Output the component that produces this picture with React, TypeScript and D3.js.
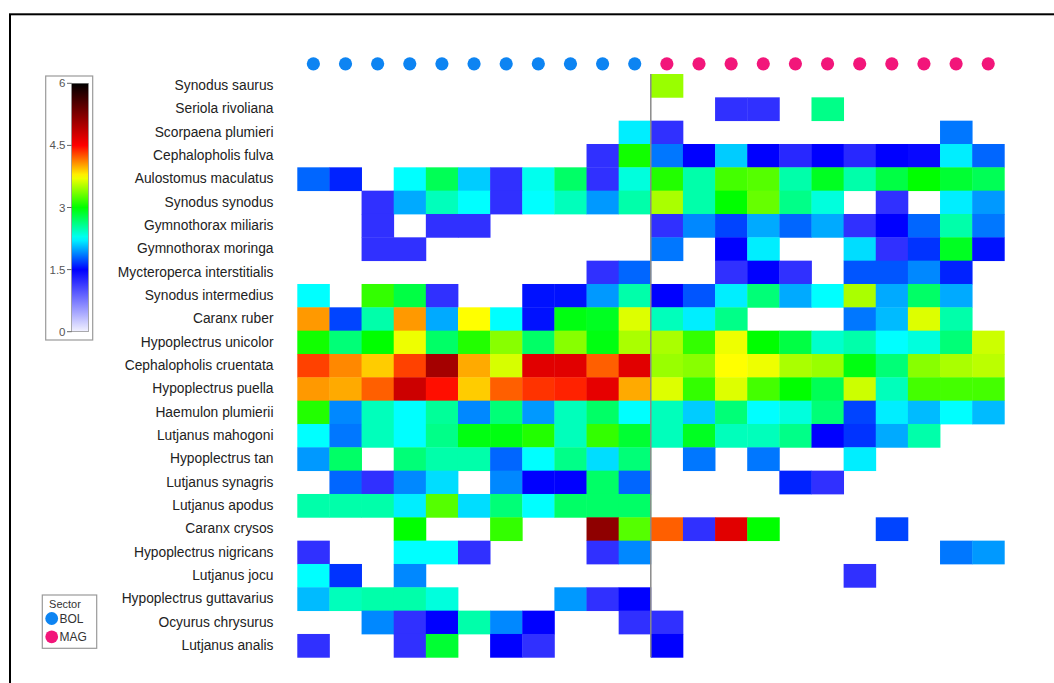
import React from "react";
import * as d3 from "d3";

const species = [
  "Synodus saurus", "Seriola rivoliana", "Scorpaena plumieri", "Cephalopholis fulva",
  "Aulostomus maculatus", "Synodus synodus", "Gymnothorax miliaris", "Gymnothorax moringa",
  "Mycteroperca interstitialis", "Synodus intermedius", "Caranx ruber", "Hypoplectrus unicolor",
  "Cephalopholis cruentata", "Hypoplectrus puella", "Haemulon plumierii", "Lutjanus mahogoni",
  "Hypoplectrus tan", "Lutjanus synagris", "Lutjanus apodus", "Caranx crysos",
  "Hypoplectrus nigricans", "Lutjanus jocu", "Hypoplectrus guttavarius", "Ocyurus chrysurus",
  "Lutjanus analis",
];

const sectors = [
  "BOL", "BOL", "BOL", "BOL", "BOL", "BOL", "BOL", "BOL", "BOL", "BOL", "BOL",
  "MAG", "MAG", "MAG", "MAG", "MAG", "MAG", "MAG", "MAG", "MAG", "MAG", "MAG",
];

const sectorNames = ["BOL", "MAG"];
const sectorColors = ["#0d84f2", "#f2167a"];

const _ = null;
// one row per species, 11 BOL samples then 11 MAG samples
const values: (number | null)[][] = [
  [_, _, _, _, _, _, _, _, _, _, _, 3.45, _, _, _, _, _, _, _, _, _, _],
  [_, _, _, _, _, _, _, _, _, _, _, _, _, 1.2, 1.2, _, 2.6, _, _, _, _, _],
  [_, _, _, _, _, _, _, _, _, _, 2.2, 1.2, _, _, _, _, _, _, _, _, 1.85, _],
  [_, _, _, _, _, _, _, _, _, 1.2, 3.05, 1.85, 1.5, 2.1, 1.5, 1.25, 1.5, 1.25, 1.5, 1.45, 2.2, 1.8],
  [1.8, 1.6, _, 2.25, 2.75, 2.1, 1.2, 2.3, 2.7, 1.2, 2.35, 3.1, 2.5, 3.2, 3.25, 2.5, 2.9, 2.5, 2.8, 3.0, 2.85, 2.75],
  [_, _, 1.2, 2.0, 2.45, 2.25, 1.2, 2.25, 2.45, 1.95, 2.5, 3.5, 2.5, 3.0, 3.3, 2.6, 2.35, _, 1.2, _, 2.2, 1.95],
  [_, _, 1.2, _, 1.2, 1.2, _, _, _, _, _, 1.2, 1.9, 1.7, 2.0, 1.8, 2.0, 1.2, 1.5, 1.8, 2.5, 1.85],
  [_, _, 1.2, 1.2, _, _, _, _, _, _, _, 1.85, _, 1.5, 2.2, _, _, 2.15, 1.2, 1.65, 2.9, 1.55],
  [_, _, _, _, _, _, _, _, _, 1.2, 1.8, _, _, 1.2, 1.5, 1.2, _, 1.75, 1.75, 1.9, 1.6, _],
  [2.25, _, 3.15, 2.8, 1.2, _, _, 1.55, 1.55, 1.95, 2.5, 1.5, 1.75, 2.2, 2.65, 2.0, 2.25, 3.5, 2.0, 2.7, 2.0, _],
  [4.05, 1.7, 2.5, 4.05, 2.0, 3.75, 2.25, 1.55, 2.95, 2.9, 3.65, 2.45, 2.2, 2.6, _, _, _, 1.85, 2.05, 3.65, 2.5, _],
  [3.05, 2.65, 3.0, 3.7, 2.7, 3.1, 3.4, 2.7, 3.4, 2.95, 3.5, 3.5, 3.15, 3.7, 3.0, 2.8, 2.4, 2.5, 2.25, 2.35, 2.65, 3.6],
  [4.31, 4.1, 3.9, 4.31, 5.04, 4.0, 3.63, 4.68, 4.68, 4.22, 4.68, 3.45, 3.4, 3.75, 3.7, 3.5, 3.45, 2.95, 2.65, 3.4, 3.5, 3.55],
  [4.05, 4.0, 4.22, 4.8, 4.46, 3.9, 4.22, 4.35, 4.4, 4.65, 4.0, 3.65, 3.15, 3.65, 3.2, 3.0, 2.75, 3.6, 2.45, 3.2, 3.2, 3.2],
  [3.1, 1.9, 2.45, 2.25, 2.55, 1.9, 2.65, 1.95, 2.45, 2.7, 2.25, 2.45, 2.1, 2.65, 2.25, 2.35, 2.65, 1.7, 2.2, 2.05, 2.25, 2.05],
  [2.25, 1.85, 2.45, 2.25, 2.6, 2.95, 2.95, 3.1, 2.45, 3.15, 2.85, 2.45, 2.9, 2.45, 2.45, 2.6, 1.5, 1.65, 2.0, 2.5, _, _],
  [1.95, 2.7, _, 2.65, 2.5, 2.5, 1.8, 2.25, 2.6, 2.15, 2.65, _, 1.85, _, 1.85, _, _, 2.2, _, _, _, _],
  [_, 1.8, 1.2, 1.9, 2.15, _, 1.9, 1.5, 1.5, 2.7, 1.8, _, _, _, _, 1.6, 1.2, _, _, _, _, _],
  [2.5, 2.5, 2.5, 2.2, 3.25, 2.15, 2.65, 2.25, 2.7, 2.7, 2.7, _, _, _, _, _, _, _, _, _, _, _],
  [_, _, _, 3.0, _, _, 3.15, _, _, 5.16, 3.25, 4.22, 1.2, 4.68, 3.0, _, _, _, 1.7, _, _, _],
  [1.2, _, _, 2.25, 2.25, 1.2, _, _, _, 1.2, 1.9, _, _, _, _, _, _, _, _, _, 1.85, 1.95],
  [2.25, 1.65, _, 1.9, _, _, _, _, _, _, _, _, _, _, _, _, _, 1.2, _, _, _, _],
  [2.05, 2.45, 2.5, 2.5, 2.35, _, _, _, 1.95, 1.2, 1.5, _, _, _, _, _, _, _, _, _, _, _],
  [_, _, 1.9, 1.2, 1.5, 2.5, 1.9, 1.5, _, _, 1.2, 1.2, _, _, _, _, _, _, _, _, _, _],
  [1.2, _, _, 1.2, 2.85, _, 1.5, 1.2, _, _, _, 1.5, _, _, _, _, _, _, _, _, _, _],
];

const colorTicks = [0, 1.5, 3, 4.5, 6];
const colorDomain = [0, 1.5, 2.25, 3, 3.75, 4.5, 5.25, 6];
const colorRange = ["#f2f2ff", "#0000ff", "#00ffff", "#00ff00", "#ffff00", "#ff0000", "#800000", "#000000"];

export default function App() {
  const W = 1054, H = 683;
  const gx0 = 297.3, gx1 = 1004.3, gy0 = 74, gy1 = 657.3;
  const cols = d3.range(sectors.length);
  const x = d3.scaleBand<number>().domain(cols).range([gx0, gx1]);
  const y = d3.scaleBand<string>().domain(species).range([gy0, gy1]);
  const color = d3.scaleLinear<string>().domain(colorDomain).range(colorRange).clamp(true);
  const sectorColor = d3.scaleOrdinal<string, string>().domain(sectorNames).range(sectorColors);

  // colorbar
  const cbX = 71.7, cbW = 16.6, cbTop = 83.3, cbBot = 331.7;
  const cbY = d3.scaleLinear().domain([0, 6]).range([cbBot, cbTop]);
  const gradStops = d3.range(0, 61).map((i) => i / 10);

  const firstMag = sectors.indexOf("MAG");
  const sepX = x(firstMag)!;

  return (
    <svg width={W} height={H} style={{ position: "absolute", left: 0, top: 0, fontFamily: "Arial, 'Liberation Sans', sans-serif" }}>
      <rect x={0} y={0} width={W} height={H} fill="#fff" />
      <rect x={10} y={14.3} width={1200} height={800} fill="none" stroke="#000" strokeWidth={2} />

      {/* sector dots */}
      {cols.map((c) => (
        <circle key={"d" + c} cx={x(c)! + x.bandwidth() / 2} cy={63.8} r={6.6} fill={sectorColor(sectors[c])} />
      ))}

      {/* cells */}
      {values.map((row, r) =>
        row.map((v, c) =>
          v == null ? null : (
            <rect key={r + "-" + c} x={x(c)!} y={y(species[r])!} width={x.bandwidth() + 0.4} height={y.bandwidth() + 0.4} fill={color(v)} />
          )
        )
      )}

      {/* separator */}
      <line x1={sepX} x2={sepX} y1={gy0} y2={gy1} stroke="#8a8a8a" strokeWidth={1.5} />

      {/* row labels */}
      {species.map((s) => (
        <text key={s} x={273.5} y={y(s)! + y.bandwidth() / 2} textAnchor="end" dominantBaseline="central" fontSize={13.8} fill="#222">
          {s}
        </text>
      ))}

      {/* colorbar */}
      <defs>
        <linearGradient id="cbg" x1="0" y1="1" x2="0" y2="0">
          {gradStops.map((v) => (
            <stop key={v} offset={v / 6} stopColor={color(v)} />
          ))}
        </linearGradient>
      </defs>
      <rect x={45.7} y={76} width={47} height={264} fill="#fff" stroke="#9a9a9a" strokeWidth={1.2} />
      <rect x={cbX} y={cbTop} width={cbW} height={cbBot - cbTop} fill="url(#cbg)" stroke="#777" strokeWidth={0.6} />
      {colorTicks.map((t) => (
        <g key={t}>
          <line x1={67} x2={cbX} y1={cbY(t)} y2={cbY(t)} stroke="#666" strokeWidth={1} />
          <text x={65.5} y={cbY(t)} textAnchor="end" dominantBaseline="central" fontSize={11.5} fill="#555">
            {t}
          </text>
        </g>
      ))}

      {/* sector legend */}
      <rect x={42.3} y={595} width={54.4} height={53.3} fill="#fff" stroke="#9a9a9a" strokeWidth={1.2} />
      <text x={65} y={603.5} textAnchor="middle" dominantBaseline="central" fontSize={11} fill="#333">Sector</text>
      {sectorNames.map((s, i) => (
        <g key={s}>
          <circle cx={51.7} cy={618.5 + i * 18.3} r={6.4} fill={sectorColor(s)} />
          <text x={59.5} y={618.5 + i * 18.3} dominantBaseline="central" fontSize={12} fill="#333">{s}</text>
        </g>
      ))}
    </svg>
  );
}
